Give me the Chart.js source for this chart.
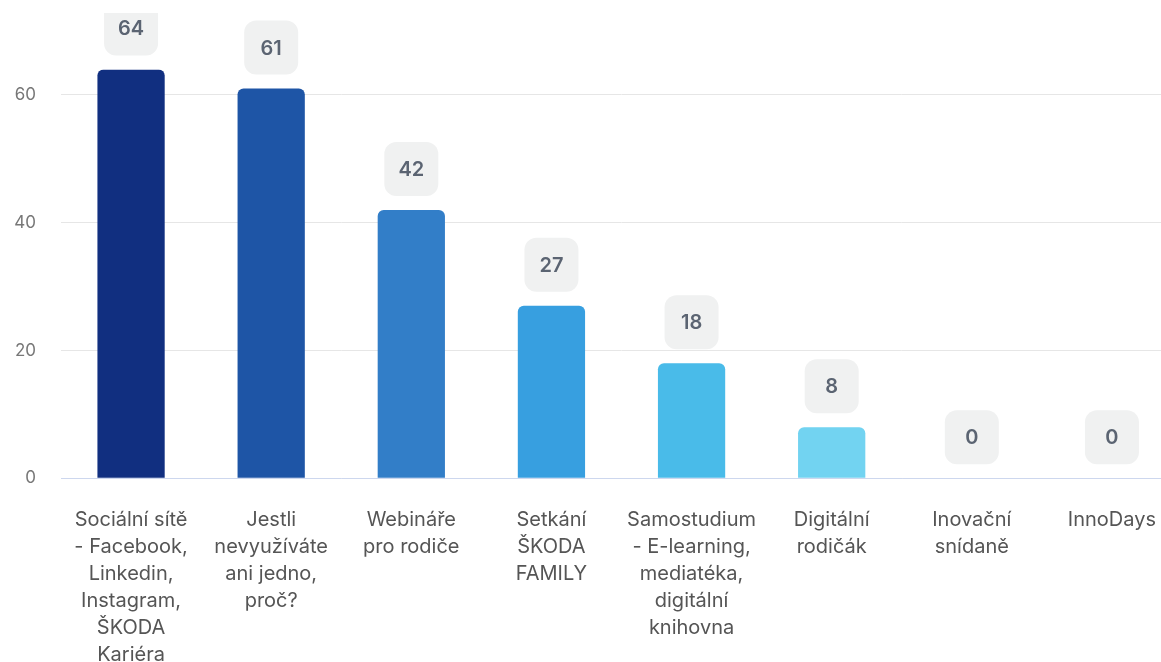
<!DOCTYPE html>
<html>
<head>
<meta charset="utf-8">
<script src="https://cdn.jsdelivr.net/npm/chart.js@4"></script>
<style>
  html, body { margin: 0; padding: 0; background: #fff; overflow: hidden; }
  #wrap { position: absolute; left: 0; top: 13px; width: 1190px; height: 649px; }
</style>
</head>
<body>
<div id="wrap"><canvas id="chart"></canvas></div>
<script>
// Data
const categories = [
  ['Sociální sítě', '- Facebook,', 'Linkedin,', 'Instagram,', 'ŠKODA', 'Kariéra'],
  ['Jestli', 'nevyužíváte', 'ani jedno,', 'proč?'],
  ['Webináře', 'pro rodiče'],
  ['Setkání', 'ŠKODA', 'FAMILY'],
  ['Samostudium', '- E-learning,', 'mediatéka,', 'digitální', 'knihovna'],
  ['Digitální', 'rodičák'],
  ['Inovační', 'snídaně'],
  ['InnoDays']
];
const values = [64, 61, 42, 27, 18, 8, 0, 0];
const barColors = ['#112f80', '#1e55a6', '#327ec8', '#379fe0', '#49bbe9', '#72d3f1', '#9fe0f5', '#c4ecf9'];
const yTicks = [0, 20, 40, 60];

// value badges above the bars
const badgePlugin = {
  id: 'badges',
  afterDatasetsDraw(chart) {
    const ctx = chart.ctx;
    const meta = chart.getDatasetMeta(0);
    ctx.save();
    meta.data.forEach((bar, i) => {
      const w = 54, h = 54;
      const x = bar.x - w / 2;
      const y = bar.y - 14 - h;
      ctx.fillStyle = '#f0f1f1';
      ctx.beginPath();
      ctx.roundRect(x, y, w, h, 12);
      ctx.fill();
      ctx.fillStyle = '#5b6472';
      ctx.font = '600 20px Inter';
      ctx.textAlign = 'center';
      ctx.textBaseline = 'middle';
      ctx.fillText(String(values[i]), bar.x, y + h / 2 + 1);
    });
    ctx.restore();
  }
};

new Chart(document.getElementById('chart'), {
  type: 'bar',
  data: {
    labels: categories,
    datasets: [{
      data: values,
      backgroundColor: barColors,
      borderWidth: 0,
      borderRadius: { topLeft: 6, topRight: 6 },
      borderSkipped: 'bottom',
      barPercentage: 0.6,
      categoryPercentage: 0.8
    }]
  },
  options: {
    responsive: true,
    maintainAspectRatio: false,
    animation: false,
    layout: { padding: { top: 56.4, right: 8, left: 0, bottom: 0 } },
    plugins: {
      legend: { display: false },
      tooltip: { enabled: false }
    },
    scales: {
      x: {
        grid: { display: false, drawTicks: false },
        border: { display: true, color: '#cdd7ee', width: 1 },
        ticks: {
          color: '#555',
          font: { family: 'Inter', size: 20, lineHeight: 27 / 20 },
          padding: 28,
          maxRotation: 0,
          autoSkip: false
        },
        afterFit(scale) { scale.height = 183.7; }
      },
      y: {
        min: 0,
        max: 64,
        border: { display: false },
        grid: { color: '#e6e6e6', drawTicks: false },
        afterBuildTicks(scale) { scale.ticks = yTicks.map(v => ({ value: v })); },
        ticks: {
          color: '#777',
          font: { family: 'Inter', size: 17 },
          padding: 25
        },
        afterFit(scale) { scale.width = 61; }
      }
    }
  },
  plugins: [badgePlugin]
});
</script>
</body>
</html>
